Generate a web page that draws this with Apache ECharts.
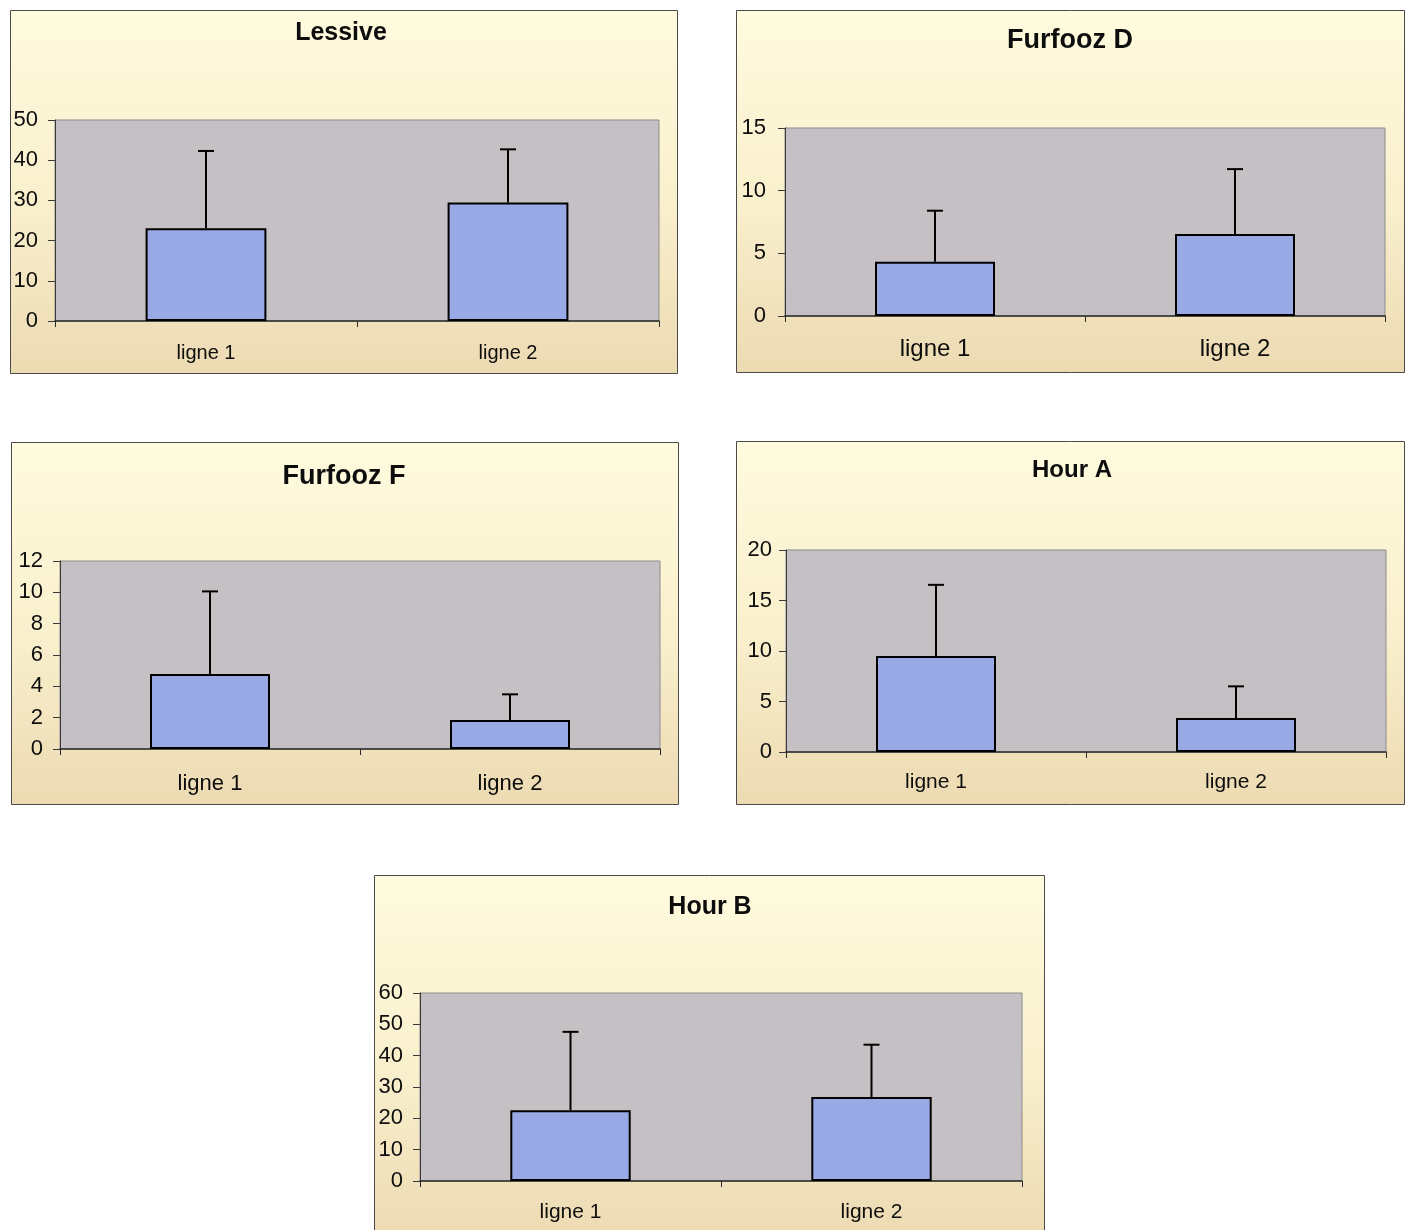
<!DOCTYPE html>
<html>
<head>
<meta charset="utf-8">
<script src="https://cdn.jsdelivr.net/npm/echarts@6/dist/echarts.min.js"></script>
<style>
html,body{margin:0;padding:0;background:#ffffff;}
#chart{width:1406px;height:1230px;}
</style>
</head>
<body>
<div id="chart"></div>
<script>
// ---- data ----
const categories = ['ligne 1', 'ligne 2'];
const titles = ['Lessive', 'Furfooz D', 'Furfooz F', 'Hour A', 'Hour B'];

const lessiveMean = [23.1, 29.5];
const lessiveSD   = [19.2, 13.2];
const furfoozDMean = [4.32, 6.54];
const furfoozDSD   = [4.08, 5.18];
const furfoozFMean = [4.78, 1.85];
const furfoozFSD   = [5.28, 1.64];
const hourAMean = [9.5, 3.36];
const hourASD   = [7.05, 3.14];
const hourBMean = [22.6, 26.8];
const hourBSD   = [25.0, 16.7];

const yMax      = [50, 15, 12, 20, 60];
const yInterval = [10, 5, 2, 5, 10];

const means = [lessiveMean, furfoozDMean, furfoozFMean, hourAMean, hourBMean];
const sds   = [lessiveSD, furfoozDSD, furfoozFSD, hourASD, hourBSD];

// ---- layout (styling) ----
const panels = [
  {box:[10,10,667,363],  grid:[55,120,604,201], title:[341,21,25],  xl:[20,22], yl:[22,17]},
  {box:[736,10,668,362], grid:[785,128,600,188], title:[1070,27.5,27], xl:[24,21], yl:[22,19]},
  {box:[11,442,667,362], grid:[60,561,600,188], title:[344,463,27], xl:[22,24], yl:[22,17]},
  {box:[736,441,668,363], grid:[786,550,600,202], title:[1072,458.5,24], xl:[21,20], yl:[22,14]},
  {box:[374,875,670,363], grid:[420,993,602,188], title:[710,895,25], xl:[21,21], yl:[22,17]}
];

const FONT = "'Liberation Sans', Arial, Helvetica, sans-serif";
const BAR_COLOR = '#98a9e6';

const graphics = [];
const titleOpts = [];
const grids = [];
const xAxes = [];
const yAxes = [];
const series = [];

panels.forEach((p, i) => {
  graphics.push({
    type: 'rect', z: -10,
    shape: {x: p.box[0] + 0.5, y: p.box[1] + 0.5, width: p.box[2], height: p.box[3]},
    style: {
      fill: new echarts.graphic.LinearGradient(0, 0, 0, 1, [
        {offset: 0, color: '#fffbde'},
        {offset: 0.55, color: '#f9efcc'},
        {offset: 1, color: '#ecdab2'}
      ]),
      stroke: '#4a4a4a', lineWidth: 1
    }
  });
  titleOpts.push({
    text: titles[i], left: p.title[0], top: p.title[1], padding: 0,
    textAlign: 'center',
    textStyle: {fontFamily: FONT, fontSize: p.title[2], fontWeight: 'bold', color: '#0d0d0d'}
  });
  grids.push({
    left: p.grid[0], top: p.grid[1], width: p.grid[2], height: p.grid[3],
    show: true, backgroundColor: '#c4c0c4', borderColor: '#8c8c8c', borderWidth: 1
  });
  xAxes.push({
    type: 'category', gridIndex: i, data: categories, boundaryGap: true,
    axisLine: {show: true, lineStyle: {color: '#2a2a2a', width: 1.5}},
    axisTick: {show: true, length: 6, inside: false, lineStyle: {color: '#2a2a2a'}},
    axisLabel: {fontFamily: FONT, fontSize: p.xl[0], color: '#0d0d0d', margin: p.xl[1]},
    splitLine: {show: false}
  });
  yAxes.push({
    type: 'value', gridIndex: i, min: 0, max: yMax[i], interval: yInterval[i],
    axisLine: {show: true, lineStyle: {color: '#3a3a3a', width: 1}},
    axisTick: {show: true, length: 7, inside: false, lineStyle: {color: '#3a3a3a'}},
    axisLabel: {fontFamily: FONT, fontSize: p.yl[0], color: '#0d0d0d', margin: p.yl[1]},
    splitLine: {show: false}
  });
  series.push({
    type: 'bar', xAxisIndex: i, yAxisIndex: i, data: means[i], barWidth: '40%',
    itemStyle: {color: BAR_COLOR, borderColor: '#000', borderWidth: 2},
    silent: true, z: 2
  });
  series.push({
    type: 'custom', xAxisIndex: i, yAxisIndex: i, z: 3, silent: true,
    data: means[i].map((m, k) => [k, m, m + sds[i][k]]),
    renderItem: function (params, api) {
      const x = api.value(0), m = api.value(1), t = api.value(2);
      const p0 = api.coord([x, m]);
      const p1 = api.coord([x, t]);
      const hw = 8;
      return {
        type: 'group',
        children: [
          {type: 'line', shape: {x1: p0[0], y1: p0[1], x2: p1[0], y2: p1[1]}, style: {stroke: '#000', lineWidth: 2}},
          {type: 'line', shape: {x1: p1[0] - hw, y1: p1[1], x2: p1[0] + hw, y2: p1[1]}, style: {stroke: '#000', lineWidth: 2}}
        ]
      };
    }
  });
});

const chart = echarts.init(document.getElementById('chart'), null, {renderer: 'canvas'});
chart.setOption({
  backgroundColor: '#ffffff',
  animation: false,
  graphic: graphics,
  title: titleOpts,
  grid: grids,
  xAxis: xAxes,
  yAxis: yAxes,
  series: series
});
</script>
</body>
</html>
